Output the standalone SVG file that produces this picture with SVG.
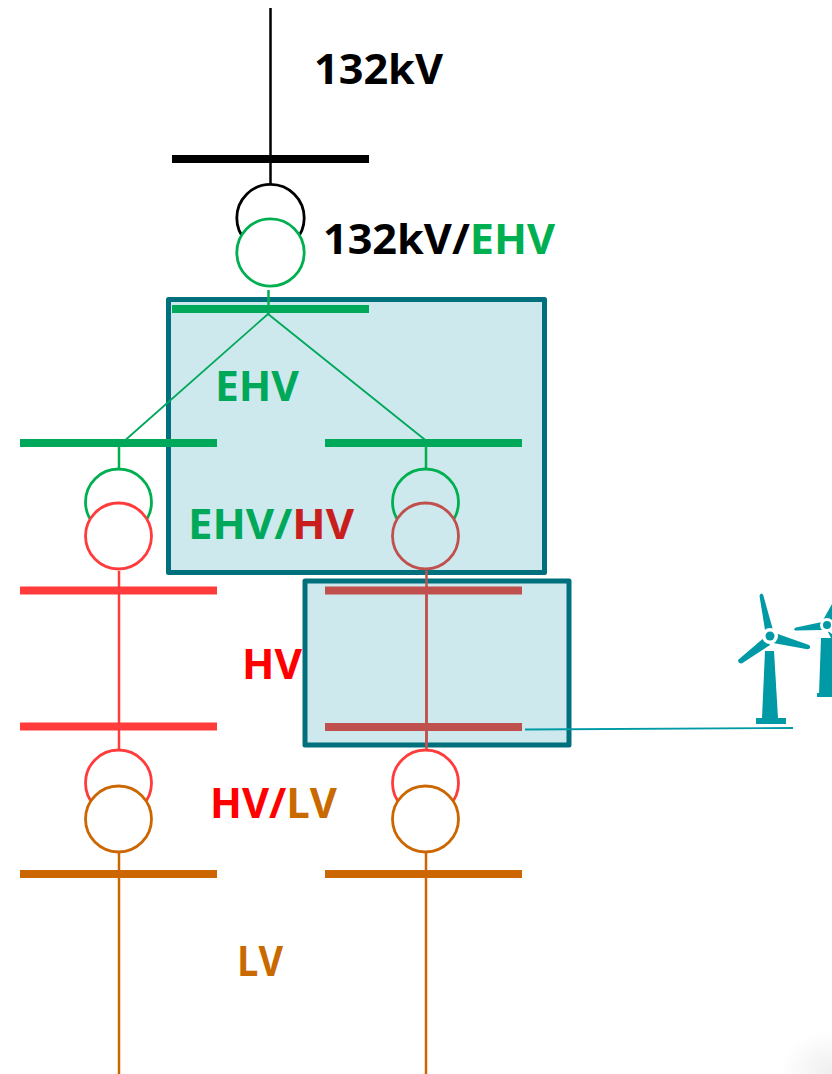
<svg xmlns="http://www.w3.org/2000/svg" width="832" height="1074" viewBox="0 0 832 1074">
<style>
.zone{fill:#cde9ed;stroke:#00707c;stroke-width:5;stroke-linejoin:round}
.bar{fill:none;stroke-width:8}
.ln{fill:none;stroke-width:2.500}
.c{stroke-width:2.800;fill:none}
.t{font-family:"Open Sans","Liberation Sans",sans-serif;font-weight:700;font-size:42px}
.tb{fill:#009aa6}
.green{stroke:#00a85a}.g2{stroke:#00b050}.red{stroke:#ff3b3b}.dred{stroke:#c0504d}.or{stroke:#cc6600}.bk{stroke:#000}
</style>
<defs>
<radialGradient id="sh" cx="1" cy="1" r="1"><stop offset="0" stop-color="#eeeeee"/><stop offset="1" stop-color="#ffffff"/></radialGradient>
<g id="turbine" class="tb">
<path d="M-5 15 L4 15 L8 82 L-8 82 Z"/>
<rect x="-14" y="82" width="30" height="6"/>
<path d="M-5-6 L-10.500-40 Q-10-42.500-8.500-42.500 Q-7-42.500-6.500-40 L3-6 Z"/>
<path d="M5-3 L39 9 Q41 11 39.500 12.500 Q38 13.500 36 13 L3 7 Z"/>
<path d="M-5 1 L-32 24 Q-32 27-29 27.500 Q-28 27.500-26 26 L0 9 Z"/>
<circle r="8" fill="#fff"/>
<circle r="4.500"/>
</g>
</defs>
<rect id="bg" width="832" height="1074" fill="#fff"/>
<rect x="780" y="1030" width="52" height="44" fill="url(#sh)"/>
<g id="zones">
<rect id="zone-ehv" class="zone" x="168.500" y="299.500" width="376" height="273"/>
<rect id="zone-hv" class="zone" x="305" y="581" width="264" height="164"/>
</g>
<g id="connectors">
<path class="ln bk" d="M270.500 8V184"/>
<path class="ln g2" d="M268.500 290V314"/>
<path class="green" fill="none" stroke-width="1.800" d="M122 443 L268 314 L426.500 441"/>
<path class="ln g2" d="M119 443V468M426 443V468"/>
<path class="ln red" d="M119 571V750"/>
<path class="ln dred" d="M426.500 571V749"/>
<path class="ln or" d="M119 853V1074M426 853V1074"/>
<path d="M525 729.500 L793 728" fill="none" stroke="#009aa6" stroke-width="1.800"/>
</g>
<g id="bus-132"><path class="bar bk" d="M172 159H369"/></g>
<g id="xf-132-ehv">
<circle class="c bk" cx="270.500" cy="218" r="33.700"/>
<circle class="c g2" cx="270.500" cy="252.500" r="33.700" style="fill:#fff"/>
</g>
<g id="bus-ehv-top"><path class="bar green" d="M172 309H369"/></g>
<g id="bus-ehv-left"><path class="bar green" d="M20 443H217"/></g>
<g id="bus-ehv-right"><path class="bar green" d="M325 443H522"/></g>
<g id="xf-ehv-hv-left">
<circle class="c g2" cx="118.500" cy="502" r="33"/>
<circle class="c red" cx="118.500" cy="536" r="33" style="fill:#fff"/>
</g>
<g id="xf-ehv-hv-right">
<circle class="c g2" cx="425.500" cy="502" r="33"/>
<circle class="c dred" cx="425.500" cy="536" r="33" style="fill:#cde9ed"/>
</g>
<g id="bus-hv-left-1"><path class="bar red" d="M20 590.500H217"/></g>
<g id="bus-hv-left-2"><path class="bar red" d="M20 726.500H217"/></g>
<g id="bus-hv-right-1"><path class="bar dred" d="M325 590.500H522"/></g>
<g id="bus-hv-right-2"><path class="bar dred" d="M325 727H522"/></g>
<path class="ln dred" d="M426.500 586V746"/>
<g id="xf-hv-lv-left">
<circle class="c red" cx="118.500" cy="783" r="33"/>
<circle class="c or" cx="118.500" cy="819" r="33" style="fill:#fff"/>
</g>
<g id="xf-hv-lv-right">
<circle class="c red" cx="425.500" cy="783" r="33"/>
<circle class="c or" cx="425.500" cy="819" r="33" style="fill:#fff"/>
</g>
<g id="bus-lv-left"><path class="bar or" d="M20 874H217"/></g>
<g id="bus-lv-right"><path class="bar or" d="M325 874H522"/></g>
<g id="labels">
<text class="t" x="314" y="84" textLength="129" lengthAdjust="spacingAndGlyphs">132kV</text>
<text class="t" x="323" y="254" textLength="232" lengthAdjust="spacingAndGlyphs">132kV/<tspan fill="#00b050">EHV</tspan></text>
<text class="t" x="215" y="401" fill="#00a85a" textLength="84" lengthAdjust="spacingAndGlyphs">EHV</text>
<text class="t" x="188" y="539" fill="#00a85a" textLength="166" lengthAdjust="spacingAndGlyphs">EHV/<tspan fill="#c81e1e">HV</tspan></text>
<text class="t" x="242" y="679" fill="#ff0000" textLength="60" lengthAdjust="spacingAndGlyphs">HV</text>
<text class="t" x="210" y="818" fill="#ff0000" textLength="127" lengthAdjust="spacingAndGlyphs">HV/<tspan fill="#c96a00">LV</tspan></text>
<text class="t" x="237" y="976" fill="#c96a00" textLength="46" lengthAdjust="spacingAndGlyphs">LV</text>
</g>
<use id="turbine-1" href="#turbine" x="770" y="636"/>
<g id="turbine-2" class="tb">
<path d="M821 638 L832 638 L832 694 L819 694 Z"/>
<rect x="817" y="693" width="15" height="4"/>
<path d="M822 622 L796 627.500 Q793 629 795 630.500 L822 630 Z"/>
<path d="M823 620 L832 604 V620 Z"/>
<path d="M827 630 L832 634 V640 Z"/>
<circle cx="827" cy="625" r="7" fill="#fff"/>
<circle cx="827" cy="625" r="4"/>
</g>
</svg>
